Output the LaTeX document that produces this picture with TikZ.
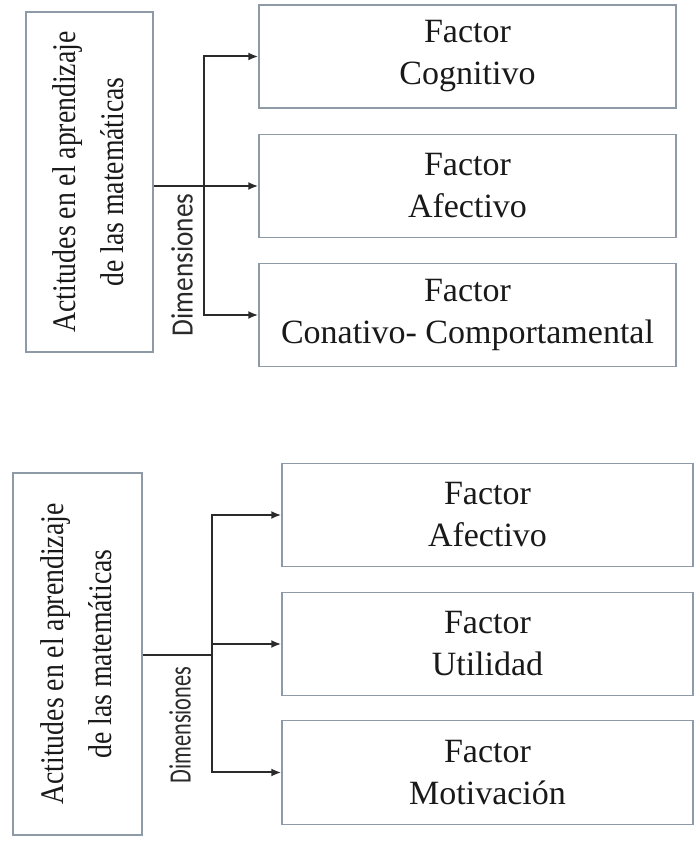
\documentclass[tikz,border=0pt]{standalone}
\usepackage{fontspec}
\setmainfont{Liberation Serif}
\newfontfamily\estrecha[FakeStretch=0.84]{Liberation Serif}
\newfontfamily\dimarriba[FakeStretch=0.88]{Carlito}
\newfontfamily\dimabajo[FakeStretch=0.72]{Carlito}
\usetikzlibrary{arrows.meta}
\definecolor{borde}{HTML}{8E9AA6}
\definecolor{linea}{HTML}{2A2A2A}
\tikzset{
    caja/.style={draw=borde, line width=1.4pt, inner sep=0pt, align=center,
        text=black!90, font={\fontsize{34}{42}\selectfont}},
    flecha/.style={draw=linea, line width=2pt, -{Latex[length=10pt, width=8pt]}},
    tallo/.style={draw=linea, line width=2pt},
}
\begin{document}
\begin{tikzpicture}[x=1pt, y=1pt]
    \useasboundingbox[fill=white] (0,0) rectangle (694,841);

    \node[caja, minimum width=127pt, minimum height=340pt] (act1) at (89.5,659)
        {\rotatebox{90}{\estrecha\fontsize{33}{48}\selectfont
         \begin{tabular}{@{}c@{}}Actitudes en el aprendizaje\\de las matemáticas\end{tabular}}};
    \node[caja, minimum width=417pt, minimum height=103pt] (cog) at (467.5,784.5)
        {Factor\\Cognitivo};
    \node[caja, minimum width=417pt, minimum height=103pt] (afe) at (467.5,655)
        {Factor\\Afectivo};
    \node[caja, minimum width=417pt, minimum height=103pt] (con) at (467.5,526)
        {Factor\\Conativo- Comportamental};
    \coordinate (j1) at (204,655);
    \node[rotate=90, text=linea, font={\dimarriba\fontsize{31}{36}\selectfont}] (dim1) at (182,576)
        {Dimensiones};

    \draw[tallo] (act1.east |- j1) -- (j1);
    \draw[flecha] (j1) |- (cog.west);
    \draw[flecha] (j1) -- (afe.west);
    \draw[flecha] (j1) |- (con.west);

    \node[caja, minimum width=129pt, minimum height=362pt] (act2) at (77.5,187)
        {\rotatebox{90}{\estrecha\fontsize{33}{48}\selectfont
         \begin{tabular}{@{}c@{}}Actitudes en el aprendizaje\\de las matemáticas\end{tabular}}};
    \node[caja, minimum width=411pt, minimum height=103pt] (afe2) at (487.5,326)
        {Factor\\Afectivo};
    \node[caja, minimum width=411pt, minimum height=103pt] (uti) at (487.5,197)
        {Factor\\Utilidad};
    \node[caja, minimum width=411pt, minimum height=104pt] (mot) at (487.5,68.5)
        {Factor\\Motivación};
    \coordinate (j2) at (212,186);
    \node[rotate=90, text=linea, font={\dimabajo\fontsize{31}{36}\selectfont}] (dim2) at (180,116)
        {Dimensiones};

    \draw[tallo] (act2.east |- j2) -- (j2);
    \draw[flecha] (j2) |- (afe2.west);
    \draw[flecha] (j2) |- (uti.west);
    \draw[flecha] (j2) |- (mot.west);
\end{tikzpicture}
\end{document}
